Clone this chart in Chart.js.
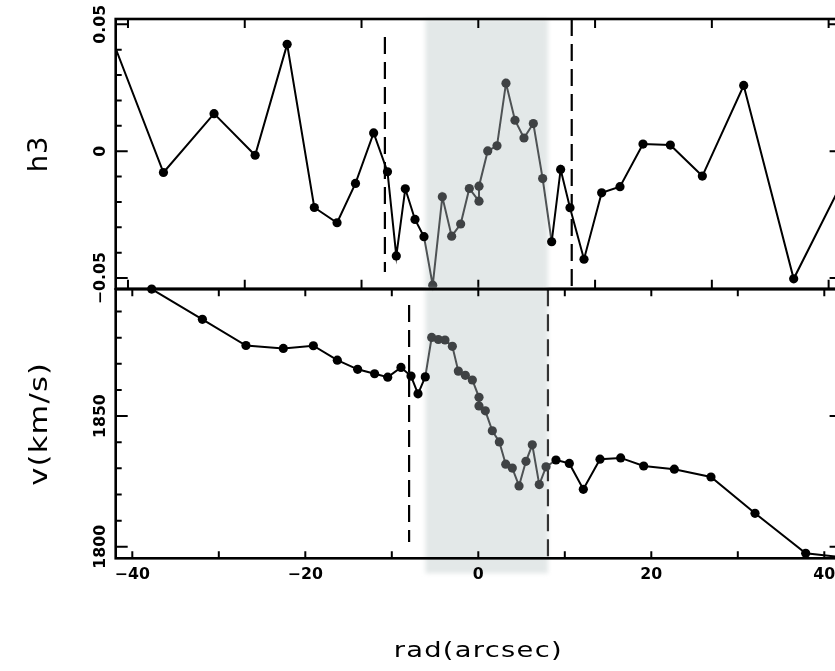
<!DOCTYPE html>
<html>
<head>
<meta charset="utf-8">
<script src="https://cdn.jsdelivr.net/npm/chart.js@4.4.1/dist/chart.umd.min.js"></script>
<style>
  html, body { margin: 0; padding: 0; background: #fff; overflow: hidden; }
  #wrap { position: relative; width: 835px; height: 671px; overflow: hidden; }
  canvas { position: absolute; left: 0; }
  #h3Chart { top: 0; }
  #velChart { top: 280px; }
</style>
</head>
<body>
<div id="wrap">
  <canvas id="h3Chart" width="860" height="310"></canvas>
  <canvas id="velChart" width="860" height="391"></canvas>
</div>
<script>
// Upper panel: h3 against radius
const h3Rad = [-42.5, -36.4, -30.55, -25.8, -22.1, -18.96, -16.33, -14.2, -12.1, -10.5,
  -9.48, -8.44, -7.32, -6.28, -5.27, -4.16, -3.08, -2.04, -1.04, 0.08,
  0.08, 1.09, 2.16, 3.2, 4.24, 5.28, 6.36, 7.44, 8.48, 9.52,
  10.6, 12.22, 14.26, 16.38, 19.04, 22.2, 25.9, 30.68, 36.46, 42.5];
const h3Val = [0.0456, -0.0084, 0.0148, -0.0016, 0.0421, -0.0222, -0.0282, -0.0127, 0.0072, -0.0081,
  -0.0413, -0.0148, -0.0269, -0.0337, -0.0528, -0.018, -0.0335, -0.0287, -0.0147, -0.0197,
  -0.0138, 0.0001, 0.0021, 0.0268, 0.0122, 0.0052, 0.0109, -0.0108, -0.0357, -0.0072,
  -0.0223, -0.0426, -0.0164, -0.0140, 0.0028, 0.0024, -0.0098, 0.0259, -0.0503, -0.0094];

// Lower panel: velocity against radius
const velRad = [-37.76, -31.9, -26.86, -22.54, -19.07, -16.3, -13.95, -11.99, -10.47, -8.94,
  -7.78, -6.97, -6.13, -5.39, -4.62, -3.85, -3.0, -2.31, -1.5, -0.69,
  0.08, 0.08, 0.81, 1.62, 2.43, 3.17, 3.93, 4.71, 5.51, 6.24,
  7.05, 7.83, 8.98, 10.52, 12.14, 14.07, 16.46, 19.12, 22.66, 26.9,
  31.99, 37.85, 42.5];
const velVal = [1898.6, 1887.0, 1877.0, 1875.9, 1876.9, 1871.4, 1867.9, 1866.2, 1864.9, 1868.6,
  1865.3, 1858.5, 1865.0, 1880.1, 1879.3, 1879.1, 1876.7, 1867.2, 1865.6, 1863.8,
  1857.2, 1853.9, 1852.0, 1844.4, 1840.1, 1831.6, 1830.1, 1823.3, 1832.7, 1839.0,
  1823.8, 1830.6, 1833.2, 1831.9, 1822.0, 1833.5, 1834.0, 1830.9, 1829.7, 1826.7,
  1812.8, 1797.5, 1795.8];

// Dashed markers (radius, from, to)
const h3Dashes = [[-10.8, 0.045, -0.0476], [10.8, 0.0521, -0.0542]];
const velDashes = [[-8.0, 1892.5, 1801.8], [8.05, 1898.5, 1795.6]];

// Shaded band and tick labels
const shadeRange = [-6.1, 8.05];
const radTicks = [-40, -20, 0, 20, 40];
const radTickLabels = ['−40', '−20', '0', '20', '40'];
const h3Ticks = [-0.05, 0, 0.05];
const h3TickLabels = ['−0.05', '0', '0.05'];
const velTicks = [1800, 1850];
const velTickLabels = ['1800', '1850'];
const topRadTicks = [-40.5, -27, -13.5, 0, 13.5, 27, 40.5];

const GRAY_PT = '#3f4244';
const GRAY_LN = '#4e5254';
const inShade = x => x > shadeRange[0] && x < shadeRange[1];

function seriesDataset(xs, ys) {
    return {
        data: xs.map((x, i) => ({ x: x, y: ys[i] })),
        borderColor: '#000',
        borderWidth: 2,
        pointRadius: 4.6,
        pointBorderWidth: 0,
        pointBackgroundColor: ctx => inShade(ctx.raw.x) ? GRAY_PT : '#000',
        segment: {
            borderColor: ctx => (inShade(ctx.p0.parsed.x) || inShade(ctx.p1.parsed.x)) ? GRAY_LN : '#000'
        },
        tension: 0,
        clip: { left: 0, top: 6, right: 0, bottom: 6 },
        order: 0
    };
}

function dashDatasets(list) {
    return list.map(d => ({
        data: [{ x: d[0], y: d[1] }, { x: d[0], y: d[2] }],
        borderColor: inShade(d[0] - 0.1) ? '#333' : '#000',
        borderWidth: 2.2,
        borderDash: [17, 8],
        pointRadius: 0,
        order: 1
    }));
}

// rotated / stretched text helper
function drawText(ctx, text, x, y, angle, stretch, spacing) {
    ctx.save();
    ctx.translate(x, y);
    ctx.rotate(angle);
    ctx.scale(stretch, 1);
    ctx.letterSpacing = spacing;
    ctx.fillText(text, 0, 0);
    ctx.restore();
}

// Frame, inward ticks, shading and labels
const framePlugin = {
    id: 'frame',
    beforeDatasetsDraw(chart, args, o) {
        const { ctx, chartArea: a, scales: { x } } = chart;
        const x0 = x.getPixelForValue(shadeRange[0]);
        const x1 = x.getPixelForValue(shadeRange[1]);
        ctx.save();
        ctx.filter = 'blur(2px)';
        ctx.fillStyle = '#e3e8e8';
        ctx.fillRect(x0, a.top, x1 - x0, a.bottom + o.shadeExtra - a.top);
        ctx.restore();
    },
    afterDraw(chart, args, o) {
        const { ctx, chartArea: a, scales: { x, y } } = chart;
        ctx.save();
        ctx.strokeStyle = '#000';
        ctx.lineWidth = 2;
        ctx.beginPath();
        o.xTicks.forEach(v => {
            const px = x.getPixelForValue(v);
            ctx.moveTo(px, a.bottom); ctx.lineTo(px, a.bottom - o.xTickLen);
            ctx.moveTo(px, a.top); ctx.lineTo(px, a.top + o.xTickLen);
        });
        for (let i = 0; i <= o.yMinorCount; i++) {
            const v = o.yMinorStart + i * o.yMinorStep;
            const py = y.getPixelForValue(v);
            const major = o.yTicks.some(t => Math.abs(t - v) < o.yMinorStep / 10);
            const len = major ? 12 : 6;
            ctx.moveTo(a.left, py); ctx.lineTo(a.left + len, py);
            ctx.moveTo(a.right, py); ctx.lineTo(a.right - len, py);
        }
        ctx.stroke();
        ctx.lineWidth = 2.6;
        ctx.strokeRect(a.left, a.top, a.right - a.left, a.bottom - a.top);

        ctx.fillStyle = '#000';
        ctx.font = 'bold 15px "DejaVu Sans"';
        ctx.textAlign = 'center';
        ctx.textBaseline = 'middle';
        o.yTicks.forEach((v, i) => {
            drawText(ctx, o.yLabels[i], a.left - 15, y.getPixelForValue(v), -Math.PI / 2, 1.05, '0px');
        });
        if (o.xLabels) {
            o.xLabelTicks.forEach((v, i) => {
                drawText(ctx, o.xLabels[i], x.getPixelForValue(v), a.bottom + 17, 0, 1.05, '0px');
            });
        }
        ctx.font = o.yTitleFont;
        drawText(ctx, o.yTitle, 40, (a.top + a.bottom) / 2, -Math.PI / 2, o.yTitleStretch, '1px');
        if (o.xTitle) {
            ctx.font = '21px "DejaVu Sans"';
            drawText(ctx, o.xTitle, x.getPixelForValue(0), a.bottom + 93, 0, 1.3, '1px');
        }
        ctx.restore();
    }
};

function baseOptions(yMin, yMax, pad, frame) {
    return {
        responsive: false,
        animation: false,
        events: [],
        layout: { padding: pad },
        scales: {
            x: { type: 'linear', min: -41.92, max: 42.0, display: false },
            y: { type: 'linear', min: yMin, max: yMax, display: false }
        },
        plugins: { legend: { display: false }, tooltip: { enabled: false }, frame: frame }
    };
}

new Chart(document.getElementById('h3Chart'), {
    type: 'line',
    data: { datasets: [seriesDataset(h3Rad, h3Val)].concat(dashDatasets(h3Dashes)) },
    options: baseOptions(-0.0542, 0.0521,
        { left: 115.7, top: 19, right: 18.4, bottom: 21.3 },
        {
            shadeExtra: 0, xTicks: topRadTicks, xTickLen: 9,
            yTicks: h3Ticks, yLabels: h3TickLabels,
            yMinorStart: -0.05, yMinorStep: 0.01, yMinorCount: 10,
            yTitle: 'h3', yTitleFont: '26px "DejaVu Sans"', yTitleStretch: 1.05
        }),
    plugins: [framePlugin]
});

new Chart(document.getElementById('velChart'), {
    type: 'line',
    data: { datasets: [seriesDataset(velRad, velVal)].concat(dashDatasets(velDashes)) },
    options: baseOptions(1795.6, 1898.5,
        { left: 115.7, top: 9.3, right: 18.4, bottom: 112.7 },
        {
            shadeExtra: 15, xTicks: [-40, -30, -20, -10, 0, 10, 20, 30, 40], xTickLen: 7,
            xLabelTicks: radTicks, xLabels: radTickLabels,
            yTicks: velTicks, yLabels: velTickLabels,
            yMinorStart: 1800, yMinorStep: 10, yMinorCount: 9,
            yTitle: 'v(km/s)', yTitleFont: '25px "DejaVu Sans"', yTitleStretch: 1.22,
            xTitle: 'rad(arcsec)'
        }),
    plugins: [framePlugin]
});
</script>
</body>
</html>
